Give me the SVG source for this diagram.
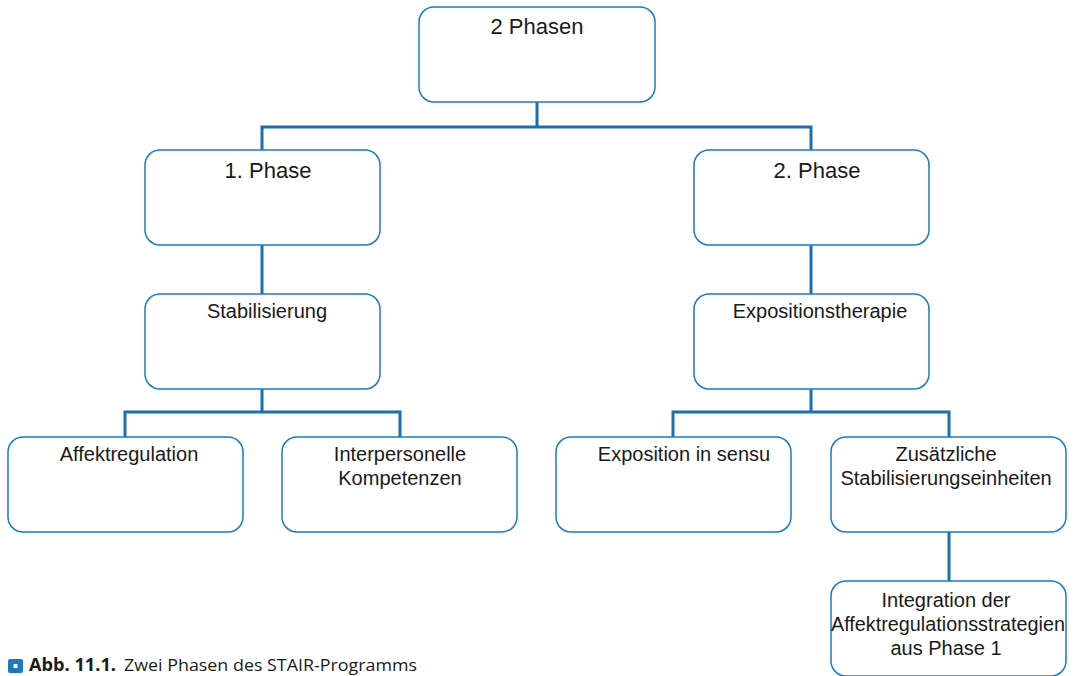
<svg xmlns="http://www.w3.org/2000/svg" width="1076" height="676" viewBox="0 0 1076 676">
  <style>
    .box { fill: #ffffff; stroke: #1b7bc0; stroke-width: 1.5; }
    .link { fill: none; stroke: #1a6fae; stroke-width: 3; }
    .t { font-family: "Liberation Sans", Arial, sans-serif; font-size: 20px; fill: #1a1a1a; text-anchor: middle; }
    .h { font-size: 22px; }
    .cap { font-family: "Open Sans", "Noto Sans", sans-serif; font-size: 17px; fill: #1a1a1a; }
  </style>
  <rect width="1076" height="676" fill="#ffffff"/>

  <!-- tree connectors -->
  <g id="connectors">
    <path class="link" d="M537 102 V127 M262 150 V127 H811 V150"/>
    <path class="link" d="M262 245 V294"/>
    <path class="link" d="M811 245 V294"/>
    <path class="link" d="M262 389 V412 M125 437 V412 H400 V437"/>
    <path class="link" d="M811 389 V412 M673 437 V412 H949 V437"/>
    <path class="link" d="M949 532 V581"/>
  </g>

  <g id="root">
    <rect class="box" x="419" y="7" width="236" height="95" rx="15"/>
    <text class="t h" x="537" y="34">2 Phasen</text>
  </g>
  <g id="phase1">
    <rect class="box" x="145" y="150" width="235" height="95" rx="15"/>
    <text class="t h" x="268" y="178">1. Phase</text>
  </g>
  <g id="phase2">
    <rect class="box" x="694" y="150" width="235" height="95" rx="15"/>
    <text class="t h" x="817" y="178">2. Phase</text>
  </g>
  <g id="stabilisierung">
    <rect class="box" x="145" y="294" width="235" height="95" rx="15"/>
    <text class="t" x="267" y="318">Stabilisierung</text>
  </g>
  <g id="expositionstherapie">
    <rect class="box" x="694" y="294" width="235" height="95" rx="15"/>
    <text class="t" x="820" y="318">Expositionstherapie</text>
  </g>
  <g id="affektregulation">
    <rect class="box" x="8" y="437" width="235" height="95" rx="15"/>
    <text class="t" x="129" y="461">Affektregulation</text>
  </g>
  <g id="interpersonelle">
    <rect class="box" x="282" y="437" width="235" height="95" rx="15"/>
    <text class="t" x="400" y="461">Interpersonelle</text>
    <text class="t" x="400" y="485">Kompetenzen</text>
  </g>
  <g id="exposition-sensu">
    <rect class="box" x="556" y="437" width="235" height="95" rx="15"/>
    <text class="t" x="684" y="461">Exposition in sensu</text>
  </g>
  <g id="zusaetzliche">
    <rect class="box" x="831" y="437" width="235" height="95" rx="15"/>
    <text class="t" x="946" y="461">Zusätzliche</text>
    <text class="t" x="946" y="485">Stabilisierungseinheiten</text>
  </g>
  <g id="integration">
    <rect class="box" x="831" y="581" width="235" height="95" rx="15"/>
    <text class="t" x="946" y="607">Integration der</text>
    <text class="t" x="948" y="631" textLength="234" lengthAdjust="spacingAndGlyphs">Affektregulationsstrategien</text>
    <text class="t" x="946" y="655">aus Phase 1</text>
  </g>

  <!-- figure caption -->
  <g id="caption">
    <rect x="8" y="659" width="15" height="14" rx="2" fill="#1b7bc0"/>
    <rect x="13.5" y="664" width="4" height="4" fill="#ffffff"/>
    <text class="cap" x="29" y="671" font-weight="bold" textLength="87" lengthAdjust="spacingAndGlyphs">Abb. 11.1.</text>
    <text class="cap" x="124" y="671" textLength="293" lengthAdjust="spacingAndGlyphs">Zwei Phasen des STAIR-Programms</text>
  </g>
</svg>
